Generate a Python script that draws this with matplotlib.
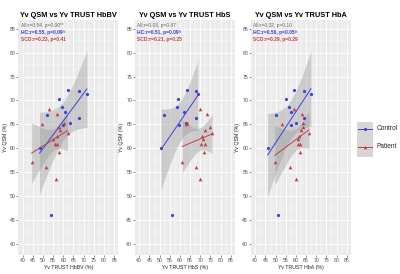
import matplotlib
matplotlib.use("Agg")
import matplotlib.pyplot as plt
import numpy as np

plt.rcParams['font.family'] = ['Liberation Sans', 'DejaVu Sans']

# Yv QSM (%) values, shared by all three panels
qsm_control = [72.2, 71.9, 71.4, 70.2, 68.7, 67.5, 67.0, 66.4, 65.3, 64.9, 60.1, 46.0]
qsm_patient = [68.3, 67.2, 65.3, 65.1, 64.4, 63.8, 63.1, 62.6, 61.9, 60.9, 60.8, 59.2, 57.1, 56.0, 53.6]

# Yv TRUST (%) values per panel
hbbv_control = [62.5, 67.8, 71.6, 57.8, 59.4, 61.0, 51.9, 67.5, 63.5, 59.7, 48.3, 54.1]
hbbv_patient = [53.2, 56.8, 60.5, 49.5, 57.8, 58.6, 62.1, 57.0, 55.1, 55.7, 56.9, 58.1, 44.4, 51.3, 56.2]
hbs_control = [63.3, 67.7, 68.8, 59.1, 58.6, 61.8, 52.0, 67.7, 63.0, 59.4, 50.7, 55.9]
hbs_patient = [70.0, 73.5, 63.6, 63.2, 74.6, 72.4, 75.8, 70.9, 71.5, 70.2, 72.4, 71.9, 61.2, 67.9, 70.0]
hba_control = [59.3, 64.1, 67.4, 55.0, 56.6, 57.7, 50.0, 63.8, 59.8, 57.7, 46.1, 51.4]
hba_patient = [59.3, 63.2, 63.6, 53.0, 63.5, 62.7, 66.4, 61.4, 61.2, 60.9, 62.0, 62.2, 49.6, 56.9, 60.1]

titles = ["Yv QSM vs Yv TRUST HbBV", "Yv QSM vs Yv TRUST HbS", "Yv QSM vs Yv TRUST HbA"]
xlabels = ["Yv TRUST HbBV (%)", "Yv TRUST HbS (%)", "Yv TRUST HbA (%)"]
stats_all = ["All:r=0.54, p=0.00**", "All:r=0.03, p=0.87", "All:r=0.32, p=0.10"]
stats_hc = ["HC:r=0.55, p=0.09^", "HC:r=0.51, p=0.09^", "HC:r=0.56, p=0.05^"]
stats_scd = ["SCD:r=0.23, p=0.41", "SCD:r=0.21, p=0.25", "SCD:r=0.29, p=0.29"]
groups = ["Control", "Patient"]

xs_control = [hbbv_control, hbs_control, hba_control]
xs_patient = [hbbv_patient, hbs_patient, hba_patient]

blue = '#4040dd'
red = '#c0404a'
t95 = {10: 2.228, 11: 2.201, 12: 2.179, 13: 2.160, 14: 2.145}


def smooth(ax, x, y, color):
    x = np.array(x)
    y = np.array(y)
    n = len(x)
    b, a = np.polyfit(x, y, 1)
    xx = np.linspace(x.min(), x.max(), 80)
    yy = a + b * xx
    resid = y - (a + b * x)
    s = np.sqrt(np.sum(resid ** 2) / (n - 2))
    sxx = np.sum((x - x.mean()) ** 2)
    se = s * np.sqrt(1 / n + (xx - x.mean()) ** 2 / sxx)
    t = t95[n - 2]
    ax.fill_between(xx, yy - t * se, yy + t * se, color='#999999', alpha=0.4, lw=0, zorder=2)
    ax.plot(xx, yy, color=color, lw=0.7, zorder=3)


fig = plt.figure(figsize=(4, 2.74), dpi=100)
lefts = [0.046, 0.3375, 0.6275]
for i in range(3):
    ax = fig.add_axes([lefts[i], 0.069, 0.25, 0.858])
    ax.set_facecolor('#EBEBEB')
    for sp in ax.spines.values():
        sp.set_visible(False)
    ax.set_xlim(37.9, 87.1)
    ax.set_ylim(37.7, 86.8)
    ax.set_xticks(np.arange(40, 86, 5))
    ax.set_yticks(np.arange(40, 86, 5))
    ax.set_xticks(np.arange(42.5, 86, 5), minor=True)
    ax.set_yticks(np.arange(42.5, 86, 5), minor=True)
    ax.grid(which='major', color='white', lw=0.6, zorder=0)
    ax.grid(which='minor', color='white', lw=0.3, zorder=0)
    ax.set_axisbelow(True)
    ax.tick_params(which='major', labelsize=3.7, length=1.3, width=0.4, color='#333333',
                   labelcolor='#4D4D4D', pad=0.8)
    ax.tick_params(which='minor', length=0)

    smooth(ax, xs_control[i], qsm_control, blue)
    smooth(ax, xs_patient[i], qsm_patient, red)
    ax.plot(xs_control[i], qsm_control, 'o', color=blue, ms=2.3, mew=0, zorder=4)
    ax.plot(xs_patient[i], qsm_patient, '^', color=red, ms=2.6, mew=0, zorder=4)

    ax.set_title(titles[i], fontsize=5.3, fontweight='bold', pad=2.5)
    ax.set_xlabel(xlabels[i], fontsize=3.8, labelpad=1.2, color='#222222')
    ax.set_ylabel("Yv QSM (%)", fontsize=3.8, labelpad=1.5, color='#222222')

    ax.text(0.024, 0.977, stats_all[i], transform=ax.transAxes, fontsize=3.5,
            color='#666666', va='center', ha='left')
    ax.text(0.024, 0.946, stats_hc[i], transform=ax.transAxes, fontsize=3.5,
            color=blue, va='center', ha='left', fontweight='bold')
    ax.text(0.024, 0.918, stats_scd[i], transform=ax.transAxes, fontsize=3.5,
            color=red, va='center', ha='left', fontweight='bold')

# legend drawn as a small key panel
lg = fig.add_axes([357 / 400, 1 - 157 / 274, 16 / 400, 35 / 274])
lg.set_facecolor('#D6D6D6')
lg.set_xticks([])
lg.set_yticks([])
for sp in lg.spines.values():
    sp.set_visible(False)
lg.set_xlim(0, 1)
lg.set_ylim(0, 2)
for k, (name, col, mk, ms) in enumerate(zip(groups, [blue, red], ['o', '^'], [2.3, 2.6])):
    yk = 1.6 - k * 1.0
    lg.plot([0.08, 0.92], [yk, yk], color=col, lw=0.7)
    lg.plot([0.5], [yk], marker=mk, color=col, ms=ms, mew=0)
    lg.text(1.2, yk, name, fontsize=4.7, va='center', ha='left', color='#222222')

fig.savefig("out.png", dpi=100)
